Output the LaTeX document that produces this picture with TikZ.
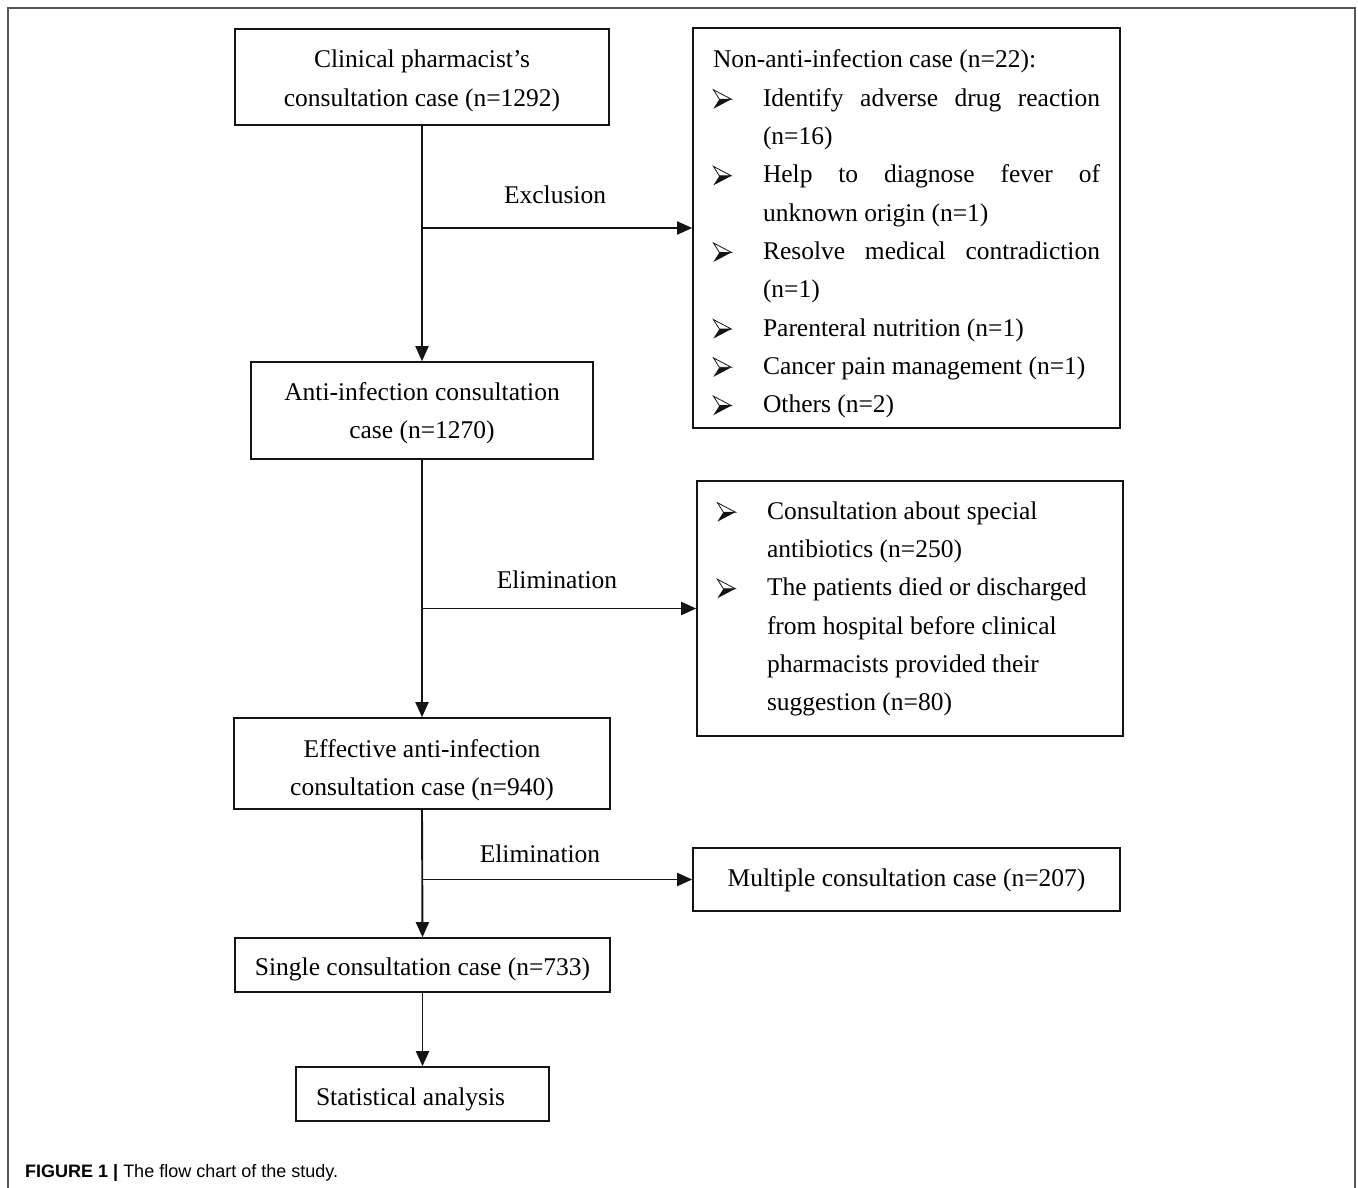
\documentclass[tikz,border=0pt]{standalone}
\usepackage{fontspec}
\setmainfont{Liberation Serif}
\newfontfamily\capfont{Liberation Sans}
\usetikzlibrary{arrows.meta, positioning}
\definecolor{FrameGrey}{RGB}{85, 85, 85}
\definecolor{LineBlack}{RGB}{20, 20, 20}
\setlength{\parskip}{0pt}
% 3D arrowhead bullet
\newcommand{\arrbul}{\tikz[baseline=0pt, x=1pt, y=1pt, line width=0.8pt, line join=miter]{%
    \fill[LineBlack] (7,7) -- (19,7) -- (1,-2.5) -- cycle;
    \draw[LineBlack] (1,16.5) -- (19,7) -- (7,7) -- cycle;}}
% bullet item with hanging indent
\newcommand{\itm}[1]{\par\hangindent=50pt\hangafter=1\noindent\makebox[50pt][l]{\arrbul}#1}

\begin{document}
\begin{tikzpicture}[x=1pt, y=-1pt,
    font=\fontsize{25.5}{38.3}\selectfont,
    box/.style={draw=LineBlack, line width=1.6pt, align=center, inner sep=0pt},
    listbox/.style={draw=LineBlack, line width=1.6pt, inner xsep=20pt, inner ysep=0pt, align=justify},
    arr/.style={LineBlack, line width=1.9pt, -{Triangle[length=15pt, width=13pt]}},
    lbl/.style={inner sep=0pt}]
    \useasboundingbox (0,0) rectangle (1358,1188);

    % Frame
    \draw[FrameGrey, line width=1.5pt] (8,1188) -- (8,8) -- (1355,8) -- (1355,1188);

    % Main column
    \node[box, minimum width=374pt, minimum height=96pt] (clin) at (422,77) {\rule{0pt}{25.6pt}Clinical pharmacist’s\\consultation case (n=1292)};
    \node[box, minimum width=342pt, minimum height=97pt] (anti) at (422,410.5) {\rule{0pt}{23.6pt}Anti-infection consultation\\case (n=1270)};
    \node[box, minimum width=376pt, minimum height=91pt] (eff) at (422,763.5) {\rule{0pt}{31.6pt}Effective anti-infection\\consultation case (n=940)};
    \node[box, minimum width=375pt, minimum height=54pt, text height=25.5pt, text depth=5.5pt] (single) at (422.5,965) {Single consultation case (n=733)};
    \node[box, minimum width=253pt, minimum height=54pt, text height=27.5pt, text depth=5.5pt, text width=213pt, inner xsep=20pt, align=flush left] (stat) at (422.5,1094) {Statistical analysis};

    % Side boxes
    \node[listbox, text width=387pt, minimum width=427pt, minimum height=400pt] (nonanti) at (906.5,228) {%
        \noindent\rule{0pt}{30pt}Non-anti-infection case (n=22):
        \itm{Identify adverse drug reaction\linebreak (n=16)}
        \itm{Help to diagnose fever of\linebreak unknown origin (n=1)}
        \itm{Resolve medical contradiction\linebreak (n=1)}
        \itm{Parenteral nutrition (n=1)}
        \itm{Cancer pain management (n=1)}
        \itm{Others (n=2)}\par};
    \node[listbox, text width=386pt, minimum width=426pt, minimum height=255pt] (spec) at (910,608.5) {%
        \itm{Consultation about special\hfill\break antibiotics (n=250)}
        \itm{The patients died or discharged\hfill\break from hospital before clinical\hfill\break pharmacists provided their\hfill\break suggestion (n=80)\rule[-25.5pt]{0pt}{1pt}}\par};
    \node[box, minimum width=427pt, minimum height=63pt, text height=19.5pt, text depth=5.5pt] (multi) at (906.5,879.5) {Multiple consultation case (n=207)};

    % Branch labels
    \node[lbl] (excl) at (555,195) {Exclusion};
    \node[lbl] (elim1) at (557,580) {Elimination};
    \node[lbl] (elim2) at (540,854) {Elimination};

    % Connectors
    \coordinate (exJ) at (clin.south |- nonanti.west);
    \coordinate (elJ) at (anti.south |- spec.west);
    \coordinate (muJ) at (eff.south |- multi.west);
    \draw[arr] (clin.south) -- (anti.north);
    \draw[arr] (exJ) -- (nonanti.west);
    \draw[arr] (anti.south) -- (eff.north);
    \draw[arr] (elJ) -- (spec.west);
    \draw[arr] (eff.south) -- (single.north);
    \draw[arr] (muJ) -- (multi.west);
    \draw[arr] (single.south) -- (stat.north);

    % Caption
    \node[anchor=west, inner sep=0pt, font=\capfont\fontsize{18}{20}\selectfont] (cap) at (25,1173) {\textbf{FIGURE 1 |} The flow chart of the study.};
\end{tikzpicture}
\end{document}
